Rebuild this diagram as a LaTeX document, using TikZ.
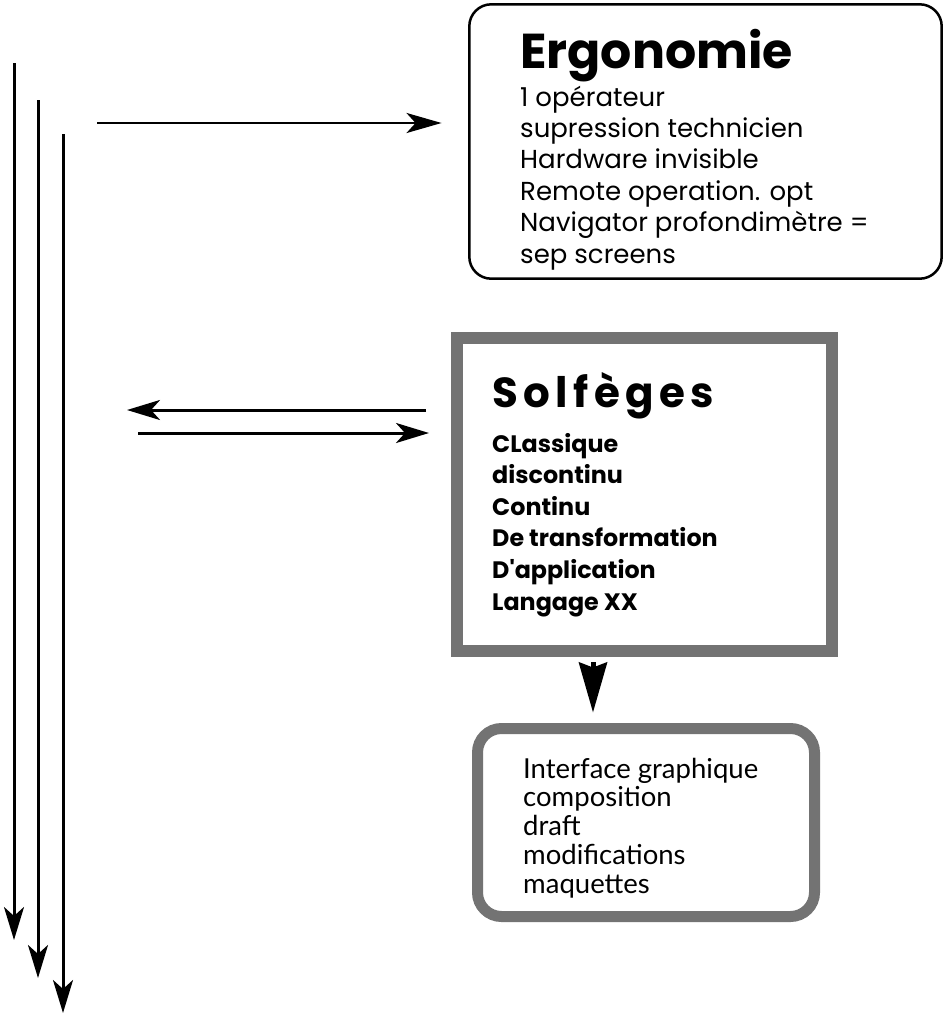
\documentclass[tikz,border=0pt]{standalone}
\usepackage{fontspec}
\setmainfont{Poppins}
\newfontfamily\spacedfont{Poppins}[LetterSpace=13]
\newfontfamily\decofont{Lato}
\usetikzlibrary{arrows.meta}
\tikzset{
  ergbox/.style={draw=black, line width=2.5pt, rounded corners=22pt, inner sep=0pt,
    minimum width=472.4pt, minimum height=274.4pt},
  solbox/.style={draw=black!55, line width=12pt, inner sep=0pt,
    minimum width=375pt, minimum height=313pt},
  botbox/.style={draw=black!55, line width=11pt, rounded corners=24pt, inner sep=0pt,
    minimum width=337pt, minimum height=188pt},
  txt/.style={anchor=base west, inner sep=0pt},
  ergtitle/.style={txt, font=\fontsize{49}{49}\selectfont\bfseries},
  ergline/.style={txt, font=\fontsize{26}{26}\selectfont},
  soltitle/.style={txt, font=\spacedfont\fontsize{42}{42}\selectfont\bfseries},
  solline/.style={txt, font=\fontsize{23.8}{24}\selectfont\bfseries},
  botline/.style={txt, font=\decofont\fontsize{27.5}{27.5}\selectfont},
  arr/.style={line width=3pt, -{Stealth[length=33pt, width=20pt, inset=9pt]}},
  bigarr/.style={line width=5pt, -{Stealth[length=50pt, width=28pt, inset=5pt]}}
}
\begin{document}
\begin{tikzpicture}[x=1pt, y=-1pt]
\useasboundingbox (0,0) rectangle (945,1015);

% Ergonomie box
\node[ergbox] (erg) at (705.5,141.5) {};
\node[ergtitle] (ergT) at (520,68) {Ergonomie};
\foreach \t [count=\i] in {1 opérateur, supression technicien, Hardware invisible,
  Remote operation. opt, Navigator profondimètre =, sep screens}
  \node[ergline] (erg\i) at (520,{106+(\i-1)*31.4}) {\t};

% Solfeges box
\node[solbox] (sol) at (644.5,494.5) {};
\node[soltitle] (solT) at (492,407) {Solfèges};
\foreach \t [count=\i] in {CLassique, discontinu, Continu, De transformation,
  D\textquotesingle application, Langage XX}
  \node[solline] (sol\i) at (492,{452+(\i-1)*31.6}) {\t};

% Bottom box
\node[botbox] (bot) at (646,822.5) {};
\foreach \t [count=\i] in {Interface graphique, composition, draft, modifications, maquettes}
  \node[botline] (bot\i) at (523,{778+(\i-1)*28.8}) {\t};

% free ends
\coordinate (a1s) at (97,123);
\coordinate (b1e) at (127,410);
\coordinate (b2s) at (138,433);
\coordinate (v1s) at (14,63);
\coordinate (v1e) at (14,940);
\coordinate (v2s) at (38,100);
\coordinate (v2e) at (38,978);
\coordinate (v3s) at (63,134);
\coordinate (v3e) at (63,1013);
\coordinate (dx) at (593,0);

% connectors
\draw[arr, line width=2.7pt, -{Stealth[length=35pt, width=20pt, inset=9pt]}, shorten >=26.5pt] (a1s) -- (a1s -| erg.west);
\draw[arr, shorten <=25pt] (b1e -| sol.west) -- (b1e);
\draw[arr, shorten >=22pt] (b2s) -- (b2s -| sol.west);
\draw[bigarr, shorten <=5pt, shorten >=10.5pt] (sol.south -| dx) -- (bot.north -| dx);
\draw[arr] (v1s) -- (v1e);
\draw[arr] (v2s) -- (v2e);
\draw[arr] (v3s) -- (v3e);
\end{tikzpicture}
\end{document}
